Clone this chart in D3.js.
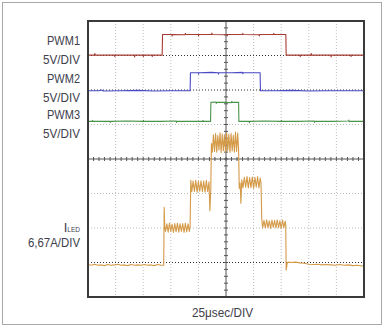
<!DOCTYPE html>
<html>
<head>
<meta charset="utf-8">
<script src="https://cdn.jsdelivr.net/npm/d3@7"></script>
<style>
  html, body { margin: 0; padding: 0; background: #fff; }
  svg { display: block; }
  text { font-family: "Liberation Sans", "DejaVu Sans", sans-serif; fill: #40404c; }
</style>
</head>
<body>
<svg id="chart" width="384" height="327"></svg>
<script>
// ---- data (time in µs, amplitude in screen divisions, 0 = centre line) ----
const timeTicks = [0, 25, 50, 75, 100, 125, 150, 175, 200, 225, 250];
const divTicks = [-4, -3, -2, -1, 0, 1, 2, 3, 4];
const channelLabels = ["PWM1", "5V/DIV", "PWM2", "5V/DIV", "PWM3", "5V/DIV"];
const ledLabel = "I";
const ledSub = "LED";
const ledScale = "6,67A/DIV";
const timeLabel = "25\u03bcsec/DIV";

const pwm1 = [[0,3.01],[6,3.01],[6.2,3.06],[6.5,3.01],[24,3.01],[24.2,2.97],[24.5,3.01],[42,3.01],[42.2,2.96],[42.5,3.01],[50,3.01],[50.2,2.97],[50.5,3.01],[58,3.01],[58.2,2.97],[58.5,3.01],
  [67.2,3.01],[67.5,3.61],[76,3.61],[76.2,3.57],[76.5,3.61],[88,3.6],[88.2,3.64],[88.5,3.61],[100,3.61],[100.2,3.57],[100.5,3.61],[112,3.61],[112.2,3.65],[112.5,3.61],[126,3.6],[126.2,3.57],[126.5,3.61],
  [140,3.61],[140.2,3.64],[140.5,3.61],[155,3.6],[155.2,3.57],[155.5,3.61],[168,3.61],[168.2,3.64],[168.5,3.61],[179.2,3.61],[179.5,3.01],
  [192,3.01],[192.2,2.97],[192.5,3.01],[202,3.01],[202.2,3.06],[202.5,3.01],[220,3.01],[220.2,2.96],[220.5,3.01],[238,3.01],[238.2,2.97],[238.5,3.01],[250,3.01]];

const pwm2 = [[0,1.98],[10,1.98],[12,2.0],[14,1.97],[30,1.98],[45,1.99],[60,1.97],[75,1.98],[86,1.98],[92.5,1.98],[92.8,2.5],
  [100,2.5],[100.2,2.46],[100.5,2.5],[112,2.51],[118,2.5],[118.2,2.46],[118.5,2.5],[130,2.5],[140,2.51],[140.2,2.47],[140.5,2.5],[150,2.5],[155.9,2.5],[156.2,1.98],
  [170,1.98],[185,1.99],[200,1.97],[215,1.98],[230,1.98],[250,1.98]];

const pwm3 = [[0,1.09],[4,1.09],[4.2,1.12],[4.5,1.09],[20,1.09],[20.2,1.06],[20.5,1.09],[36,1.1],[50,1.09],[50.2,1.12],[50.5,1.09],[66,1.09],[80,1.1],[80.2,1.06],[80.5,1.09],[96,1.09],[104,1.09],[104.2,1.12],[104.5,1.09],
  [111,1.09],[111.3,1.64],[116,1.65],[116.2,1.61],[116.5,1.64],[124,1.64],[130,1.63],[130.2,1.67],[130.5,1.64],[136.4,1.64],[136.7,1.09],
  [146,1.09],[146.2,1.05],[146.5,1.09],[160,1.1],[175,1.09],[175.2,1.12],[175.5,1.09],[190,1.09],[205,1.1],[205.2,1.06],[205.5,1.09],[222,1.09],[236,1.1],[236.2,1.13],[236.5,1.09],[250,1.09]];

const iled = [
  [0,-3.06],[3,-3.08],[6,-3.05],[9,-3.08],[12,-3.07],[15,-3.09],[18,-3.06],[21,-3.08],[24,-3.07],[27,-3.05],[30,-3.08],[33,-3.07],[36,-3.09],[39,-3.06],[42,-3.08],[45,-3.07],[48,-3.08],[51,-3.06],[54,-3.08],[57,-3.07],[60,-3.09],[63,-3.06],[66,-3.08],[68.6,-3.08],
  [69.0,-1.4],[69.5,-1.95],[70.2,-2.1],
  [71.4,-1.88],[72.6,-2.12],[73.8,-1.86],[75.0,-2.10],[76.2,-1.89],[77.4,-2.13],[78.6,-1.87],[79.8,-2.11],[81.0,-1.86],[82.2,-2.12],[83.4,-1.88],[84.6,-2.10],[85.8,-1.87],[87.0,-2.13],[88.2,-1.86],[89.4,-2.11],[90.6,-1.88],[91.8,-2.10],[92.5,-1.95],
  [93.1,-0.62],[94.0,-0.95],
  [95.2,-0.64],[96.4,-0.94],[97.6,-0.62],[98.8,-0.96],[100.0,-0.65],[101.2,-0.93],[102.4,-0.63],[103.6,-0.95],[104.8,-0.64],[106.0,-0.96],[107.2,-0.62],[108.4,-0.94],[109.6,-0.66],[110.4,-1.5],
  [111.2,-0.9],[111.8,0.45],[112.6,0.2],
  [113.6,0.7],[114.6,0.22],[115.6,0.74],[116.6,0.2],[117.6,0.68],[118.6,0.26],[119.6,0.76],[120.6,0.18],[121.6,0.72],[122.6,0.24],[123.6,0.7],[124.6,0.2],[125.6,0.77],[126.6,0.25],[127.6,0.71],[128.6,0.19],[129.6,0.74],[130.6,0.23],[131.6,0.69],[132.6,0.2],[133.6,0.78],[134.6,0.22],[135.6,0.75],[136.4,0.3],
  [137.0,-0.85],[137.8,-0.7],[138.5,-1.28],[139.3,-0.6],
  [140.4,-0.84],[141.6,-0.53],[142.8,-0.82],[144.0,-0.51],[145.2,-0.84],[146.4,-0.54],[147.6,-0.83],[148.8,-0.52],[150.0,-0.85],[151.2,-0.53],[152.4,-0.82],[153.6,-0.51],[154.8,-0.84],[156.0,-0.55],[156.7,-0.7],
  [157.4,-1.75],[158.2,-2.0],
  [159.4,-1.78],[160.6,-2.0],[161.8,-1.76],[163.0,-1.99],[164.2,-1.79],[165.4,-2.01],[166.6,-1.77],[167.8,-1.98],[169.0,-1.78],[170.2,-2.0],[171.4,-1.76],[172.6,-1.99],[173.8,-1.79],[175.0,-2.01],[176.2,-1.77],[177.4,-1.99],[178.6,-1.8],[179.1,-1.9],
  [179.5,-3.22],[180.3,-3.05],[181.0,-2.99],
  [184,-3.0],[188,-2.99],[192,-3.01],[196,-3.02],[200,-3.05],[204,-3.06],[208,-3.05],[212,-3.07],[216,-3.06],[220,-3.07],[224,-3.08],[228,-3.06],[232,-3.08],[236,-3.07],[240,-3.09],[244,-3.08],[248,-3.1],[250,-3.09]
];
const refLevels = [3, 2, -3];

// ---- drawing ----
const svg = d3.select("#chart");
const L = 88, R = 364, T = 21, B = 297;
const x = d3.scaleLinear().domain([0, 250]).range([L, R]);
const y = d3.scaleLinear().domain([-4, 4]).range([B, T]);

// outer border
svg.append("rect").attr("x", 2.5).attr("y", 2.5).attr("width", 379).attr("height", 322)
  .attr("fill", "none").attr("stroke", "#a8a8a8").attr("stroke-width", 1);

// grid
const g = svg.append("g");
g.selectAll("line.vg").data(timeTicks.slice(1, -1).filter(t => t !== 125)).join("line")
  .attr("x1", d => x(d)).attr("x2", d => x(d)).attr("y1", T).attr("y2", B)
  .attr("stroke", "#bdbdbd").attr("stroke-dasharray", "1,2");
g.selectAll("line.hg").data(divTicks.slice(1, -1).filter(v => v !== 0)).join("line")
  .attr("y1", d => y(d)).attr("y2", d => y(d)).attr("x1", L).attr("x2", R)
  .attr("stroke", d => refLevels.includes(d) ? "#333" : "#bdbdbd").attr("stroke-dasharray", "1,2");

// centre crosshair with minor ticks
svg.append("line").attr("x1", L).attr("x2", R).attr("y1", y(0)).attr("y2", y(0)).attr("stroke", "#555");
svg.append("line").attr("x1", x(125)).attr("x2", x(125)).attr("y1", T).attr("y2", B).attr("stroke", "#555");
const minorT = d3.range(0, 250.01, 5);
const minorV = d3.range(-4, 4.001, 0.2);
svg.append("g").selectAll("line").data(minorT).join("line")
  .attr("x1", d => x(d)).attr("x2", d => x(d)).attr("y1", y(0) - 2).attr("y2", y(0) + 2).attr("stroke", "#555");
svg.append("g").selectAll("line").data(minorV).join("line")
  .attr("y1", d => y(d)).attr("y2", d => y(d)).attr("x1", x(125) - 2).attr("x2", x(125) + 2).attr("stroke", "#555");

// traces
const line = d3.line().x(d => x(d[0])).y(d => y(d[1]));
const traces = [
  { data: pwm1, color: "#a83a33" },
  { data: pwm2, color: "#4a4ac4" },
  { data: pwm3, color: "#4a944a" },
  { data: iled, color: "#d49a48" }
];
svg.append("g").selectAll("path").data(traces).join("path")
  .attr("d", d => line(d.data)).attr("fill", "none")
  .attr("stroke", d => d.color).attr("stroke-width", 1.1).attr("stroke-linejoin", "round");

// frame
svg.append("rect").attr("x", L).attr("y", T).attr("width", R - L).attr("height", B - T)
  .attr("fill", "none").attr("stroke", "#3a3a3a").attr("stroke-width", 2);

// labels
const labelBase = [45, 64, 82.5, 101.5, 119, 138];
const labelW = [33, 37, 33, 37, 33, 37];
svg.append("g").selectAll("text").data(channelLabels).join("text")
  .attr("x", 80).attr("y", (d, i) => labelBase[i]).attr("text-anchor", "end")
  .attr("font-size", 13).attr("textLength", (d, i) => labelW[i]).attr("lengthAdjust", "spacingAndGlyphs")
  .text(d => d);

const il = svg.append("text").attr("x", 80).attr("y", 231.5).attr("text-anchor", "end").attr("font-size", 13);
il.append("tspan").text(ledLabel);
il.append("tspan").attr("font-size", 6.5).text(ledSub);
svg.append("text").attr("x", 80).attr("y", 246.5).attr("text-anchor", "end").attr("font-size", 13)
  .attr("textLength", 52).attr("lengthAdjust", "spacingAndGlyphs").text(ledScale);
svg.append("text").attr("x", 222.5).attr("y", 316.5).attr("text-anchor", "middle").attr("font-size", 13)
  .attr("textLength", 61).attr("lengthAdjust", "spacingAndGlyphs").text(timeLabel);
</script>
</body>
</html>
